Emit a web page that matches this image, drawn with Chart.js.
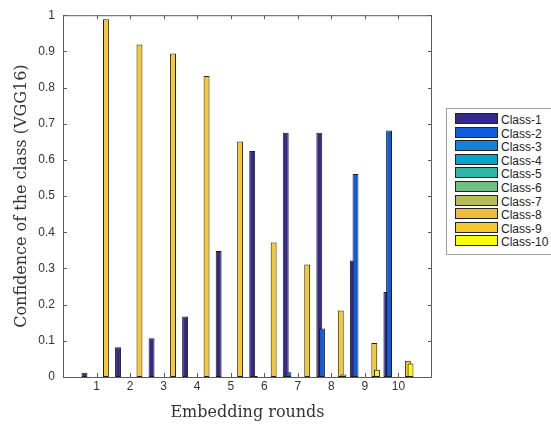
<!DOCTYPE html>
<html lang="en">
<head>
<meta charset="UTF-8">
<title>Confidence of the class per embedding round</title>
<script src="https://cdn.jsdelivr.net/npm/chart.js"></script>
<style>
  html, body { margin: 0; padding: 0; background: #fff; overflow: hidden; }
  #wrap { position: relative; width: 551px; height: 427px; }
  #legend {
    position: absolute; left: 446px; top: 108px; width: 112px; height: 147px;
    border: 1px solid #a0a0a0; background: #fff; box-sizing: border-box;
  }
  .row {
    position: absolute; left: 8px; height: 11px; line-height: 11px;
    font: 12px "Liberation Sans", Arial, sans-serif; color: #222; white-space: nowrap;
  }
  .sw {
    display: inline-block; width: 41px; height: 9px; border: 1px solid #222;
    vertical-align: top; margin-right: 3px;
  }
</style>
</head>
<body>
<div id="wrap">
  <canvas id="chart" width="551" height="427"></canvas>
  <div id="legend"></div>
</div>

<script>
// data
const rounds = [1, 2, 3, 4, 5, 6, 7, 8, 9, 10];
const classNames = ['Class-1', 'Class-2', 'Class-3', 'Class-4', 'Class-5',
                    'Class-6', 'Class-7', 'Class-8', 'Class-9', 'Class-10'];
const class1  = [0.012, 0.082, 0.107, 0.167, 0.348, 0.625, 0.675, 0.675, 0.322, 0.235];
const class2  = [0, 0, 0, 0, 0, 0.003, 0.013, 0.134, 0.561, 0.681];
const class3  = [0, 0, 0, 0, 0, 0, 0, 0, 0, 0];
const class4  = [0, 0, 0, 0, 0, 0, 0, 0, 0, 0];
const class5  = [0, 0, 0, 0, 0, 0, 0, 0, 0, 0];
const class6  = [0, 0, 0, 0, 0, 0, 0, 0, 0, 0];
const class7  = [0, 0, 0, 0, 0, 0, 0, 0, 0, 0];
const class8  = [0, 0, 0, 0, 0, 0, 0, 0, 0, 0];
const class9  = [0.989, 0.919, 0.894, 0.832, 0.651, 0.372, 0.311, 0.184, 0.094, 0.045];
const class10 = [0, 0, 0, 0, 0, 0, 0, 0.007, 0.020, 0.037];
const yTickValues = [0, 0.1, 0.2, 0.3, 0.4, 0.5, 0.6, 0.7, 0.8, 0.9, 1];
const yTickLabels = ['0', '0.1', '0.2', '0.3', '0.4', '0.5', '0.6', '0.7', '0.8', '0.9', '1'];

// parula(10)
const classColors = ['#352a87', '#0f5cdd', '#1481d6', '#06a4ca', '#2eb7a4',
                     '#71bf80', '#b7bc58', '#efba43', '#f8c92f', '#f9fb0e'];

const allClasses = [class1, class2, class3, class4, class5, class6, class7, class8, class9, class10];

const datasets = allClasses.map((vals, i) => ({
  label: classNames[i],
  data: vals.map((v, j) => ({ x: rounds[j], y: v })),
  backgroundColor: classColors[i],
  borderColor: '#1e1e1e',
  borderWidth: 1,
  borderSkipped: false,
  categoryPercentage: 0.8,
  barPercentage: 2.2
}));

// matlab draws later series on top, chart.js does the opposite
const drawOrder = {
  id: 'drawOrder',
  beforeDatasetsDraw(chart) {
    const a = chart.chartArea, ctx = chart.ctx;
    chart.getSortedVisibleDatasetMetas().forEach(meta => {
      ctx.save();
      ctx.beginPath();
      ctx.rect(a.left, a.top, a.right - a.left, a.bottom - a.top);
      ctx.clip();
      meta.controller.draw();
      ctx.restore();
    });
    return false;
  }
};

// box around the axes with inward ticks on all four sides
const frame = {
  id: 'frame',
  afterDraw(chart) {
    const { ctx, chartArea: a, scales } = chart;
    const t = 4;
    ctx.save();
    ctx.strokeStyle = '#5a5a5a';
    ctx.lineWidth = 1;
    ctx.strokeRect(a.left + 0.5, a.top + 0.5, a.right - a.left - 1, a.bottom - a.top);
    ctx.beginPath();
    scales.x.ticks.forEach(tk => {
      const px = Math.round(scales.x.getPixelForValue(tk.value)) + 0.5;
      ctx.moveTo(px, a.bottom); ctx.lineTo(px, a.bottom - t);
      ctx.moveTo(px, a.top); ctx.lineTo(px, a.top + t);
    });
    scales.y.ticks.forEach(tk => {
      const py = Math.round(scales.y.getPixelForValue(tk.value)) + 0.5;
      ctx.moveTo(a.left, py); ctx.lineTo(a.left + t, py);
      ctx.moveTo(a.right, py); ctx.lineTo(a.right - t, py);
    });
    ctx.stroke();
    ctx.restore();
  }
};

const tickFont = { family: '"Liberation Sans", Arial, sans-serif', size: 12 };
const titleFont = { family: '"DejaVu Serif", serif', size: 16 };

new Chart(document.getElementById('chart'), {
  type: 'bar',
  data: { datasets: datasets },
  options: {
    responsive: false,
    animation: false,
    layout: { padding: { left: 0, right: 119, top: 0, bottom: 0 } },
    plugins: { legend: { display: false }, tooltip: { enabled: false } },
    scales: {
      x: {
        type: 'linear',
        offset: false,
        min: 0,
        max: 11,
        grid: { display: false, drawTicks: false },
        border: { display: false },
        afterBuildTicks: s => { s.ticks = rounds.map(v => ({ value: v })); },
        afterFit: s => { s.height = 50; },
        ticks: { font: tickFont, color: '#333', padding: 2, maxRotation: 0,
                 callback: v => String(v) },
        title: { display: true, text: 'Embedding rounds', font: titleFont,
                 color: '#333', padding: { top: 0, bottom: 5 } }
      },
      y: {
        min: 0,
        max: 1,
        grid: { display: false, drawTicks: false },
        border: { display: false },
        afterBuildTicks: s => { s.ticks = yTickValues.map(v => ({ value: v })); },
        afterFit: s => { s.width = 63; },
        ticks: { font: tickFont, color: '#333', padding: 8,
                 callback: (v, i) => yTickLabels[i] },
        title: { display: true, text: 'Confidence of the class (VGG16)', font: titleFont,
                 color: '#333', padding: { top: 12, bottom: 0 } }
      }
    }
  },
  plugins: [drawOrder, frame]
});

// legend box, cut by the right edge like the original
const legend = document.getElementById('legend');
classNames.forEach((name, i) => {
  const row = document.createElement('div');
  row.className = 'row';
  row.style.top = (4 + i * 13.6) + 'px';
  row.innerHTML = '<span class="sw" style="background:' + classColors[i] + '"></span>' + name;
  legend.appendChild(row);
});
</script>
</body>
</html>
